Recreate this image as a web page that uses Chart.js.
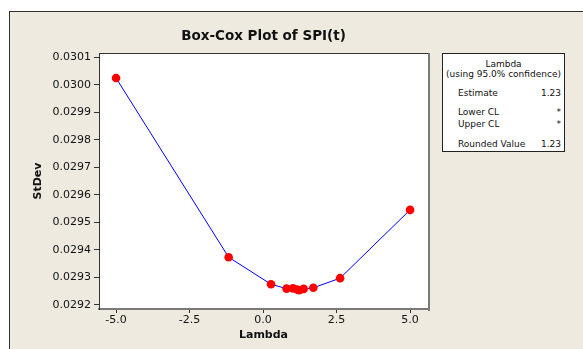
<!DOCTYPE html>
<html>
<head>
<meta charset="utf-8">
<script src="https://cdn.jsdelivr.net/npm/chart.js@4/dist/chart.umd.min.js"></script>
<style>
  html, body { margin: 0; padding: 0; background: #ffffff; }
  #wrap { position: relative; width: 583px; height: 349px; overflow: hidden; }
  #frame { position: absolute; left: 9px; top: 11px; width: 600px; height: 360px;
           background: #EEEAE0; border-left: 1px solid #333; border-top: 1px solid #333; }
  #c { position: absolute; left: 0; top: 0; }
  #info { position: absolute; left: 442px; top: 53px; width: 121px; height: 97px;
          background: #ffffff; border: 1px solid #222; border-right-width: 1.5px; border-bottom-width: 1.5px;
          font-family: "DejaVu Sans", sans-serif; font-size: 9px; color: #111; }
  #info div { position: absolute; white-space: nowrap; line-height: 11px; }
</style>
</head>
<body>
<div id="wrap">
  <div id="frame"></div>
  <canvas id="c" width="583" height="349"></canvas>
  <div id="info"></div>
</div>
<script>
// ---- data ----
const lambdas = [-5.0, -1.17, 0.27, 0.80, 1.02, 1.16, 1.23, 1.38, 1.71, 2.62, 5.0];
const stdevs  = [0.030024, 0.029373, 0.029275, 0.029259, 0.029260, 0.029256, 0.029253, 0.029258, 0.029262, 0.029297, 0.029545];
const xTicks  = [-5.0, -2.5, 0.0, 2.5, 5.0];
const yTicks  = [0.0292, 0.0293, 0.0294, 0.0295, 0.0296, 0.0297, 0.0298, 0.0299, 0.0300, 0.0301];
const titleText = "Box-Cox Plot of SPI(t)";
const xTitle = "Lambda";
const yTitle = "StDev";
const infoHeader = ["Lambda", "(using 95.0% confidence)"];
const infoLabels = ["Estimate", "Lower CL", "Upper CL", "Rounded Value"];
const infoValues = ["1.23", "*", "*", "1.23"];

// ---- info box (HTML text) ----
const info = document.getElementById('info');
function addText(txt, css) { const d = document.createElement('div'); d.textContent = txt; Object.assign(d.style, css); info.appendChild(d); }
addText(infoHeader[0], {left: '0', width: '121px', textAlign: 'center', top: '5px'});
addText(infoHeader[1], {left: '0', width: '121px', textAlign: 'center', top: '15px'});
const rowTops = [34, 53, 65, 84.5];
infoLabels.forEach((l, i) => {
  addText(l, {left: '15px', top: rowTops[i] + 'px'});
  addText(infoValues[i], {right: '3px', top: rowTops[i] + 'px'});
});

const pts = lambdas.map((x, i) => ({x: x, y: stdevs[i]}));

const decor = {
  id: 'decor',
  beforeDraw(chart) {
    const {ctx, chartArea: a} = chart;
    ctx.save();
    ctx.fillStyle = '#ffffff';
    ctx.fillRect(a.left, a.top, a.right - a.left, a.bottom - a.top);
    ctx.restore();
  },
  afterDraw(chart) {
    const {ctx, chartArea: a} = chart;
    ctx.save();
    ctx.strokeStyle = '#333';
    ctx.lineWidth = 1;
    ctx.beginPath(); ctx.moveTo(a.left, a.top + 0.5); ctx.lineTo(a.right, a.top + 0.5); ctx.stroke();
    ctx.strokeStyle = '#7a7a7a';
    ctx.lineWidth = 2;
    ctx.beginPath(); ctx.moveTo(a.right + 1, a.top); ctx.lineTo(a.right + 1, a.bottom + 2); ctx.stroke();
    ctx.fillStyle = '#111';
    ctx.textAlign = 'center';
    ctx.textBaseline = 'middle';
    ctx.font = 'bold 13.5px "DejaVu Sans"';
    ctx.fillText(titleText, (a.left + a.right) / 2, 36);
    ctx.font = 'bold 11px "DejaVu Sans"';
    ctx.fillText(xTitle, (a.left + a.right) / 2, 335);
    ctx.translate(38, (a.top + a.bottom) / 2);
    ctx.rotate(-Math.PI / 2);
    ctx.fillText(yTitle, 0, 0);
    ctx.restore();
  }
};

new Chart(document.getElementById('c'), {
  type: 'scatter',
  data: {
    datasets: [{
      data: pts,
      showLine: true,
      borderColor: '#0000FF',
      borderWidth: 1,
      pointRadius: 4.3,
      pointHoverRadius: 4.3,
      pointBackgroundColor: '#FF0000',
      pointBorderColor: '#FF0000',
      pointBorderWidth: 0
    }]
  },
  options: {
    responsive: false,
    animation: false,
    events: [],
    layout: { padding: { left: 0, top: 53, right: 155, bottom: 0 } },
    plugins: { legend: { display: false }, tooltip: { enabled: false }, title: { display: false } },
    scales: {
      x: {
        type: 'linear',
        min: -5.58, max: 5.61,
        afterFit(s) { s.height = 40; },
        afterBuildTicks(s) { s.ticks = xTicks.map(v => ({value: v})); },
        grid: { drawOnChartArea: false, drawTicks: true, tickLength: 4, color: '#333', tickWidth: 1 },
        border: { display: true, color: '#7a7a7a', width: 2 },
        ticks: { color: '#111', font: { family: 'DejaVu Sans', size: 11 }, padding: 1,
                 maxRotation: 0, autoSkip: false, callback: v => Number(v).toFixed(1) }
      },
      y: {
        type: 'linear',
        min: 0.029185, max: 0.030115,
        afterFit(s) { s.width = 99; },
        afterBuildTicks(s) { s.ticks = yTicks.map(v => ({value: v})); },
        grid: { drawOnChartArea: false, drawTicks: true, tickLength: 5, color: '#333', tickWidth: 1 },
        border: { display: true, color: '#333', width: 1 },
        ticks: { color: '#111', font: { family: 'DejaVu Sans', size: 11 }, padding: 3,
                 autoSkip: false, callback: v => Number(v).toFixed(4) }
      }
    }
  },
  plugins: [decor]
});
</script>
</body>
</html>
